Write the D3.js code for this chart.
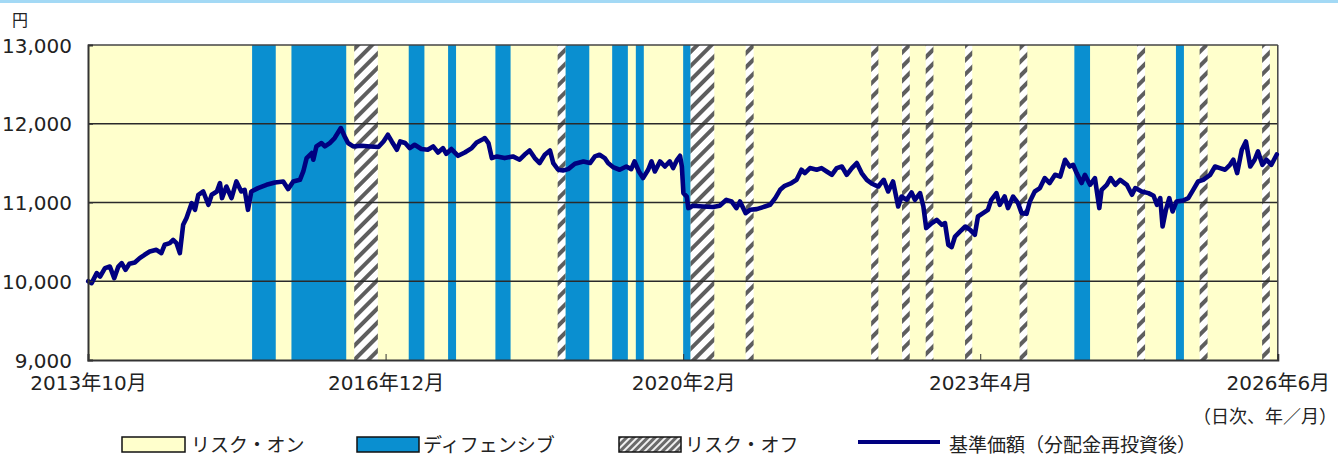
<!DOCTYPE html>
<html><head><meta charset="utf-8">
<script src="https://cdn.jsdelivr.net/npm/d3@7"></script>
<style>body{margin:0;background:#fff;} svg{display:block}</style>
</head><body><svg id="c" width="1338" height="457"></svg>
<script>
// ---------- data ----------
const navDates = [
"2013-10-02","2013-10-15","2013-11-04","2013-11-17","2013-12-06","2013-12-25","2014-01-11","2014-01-27","2014-02-09","2014-02-24",
"2014-03-11","2014-04-01","2014-04-20","2014-05-09","2014-05-29","2014-06-24","2014-07-13","2014-07-26","2014-08-15","2014-08-28",
"2014-09-10","2014-09-23","2014-10-06","2014-10-19","2014-11-08","2014-11-21","2014-12-04","2014-12-23","2015-01-12","2015-01-25",
"2015-02-14","2015-02-26","2015-03-06","2015-03-23","2015-04-12","2015-05-01","2015-05-20","2015-06-02","2015-06-15","2015-06-28",
"2015-07-24","2015-08-26","2015-09-28","2015-10-30","2015-11-18","2015-12-08","2016-01-03","2016-01-16","2016-01-29","2016-02-18",
"2016-02-24","2016-03-07","2016-03-27","2016-04-09","2016-04-28","2016-05-17","2016-06-10","2016-06-25","2016-07-08","2016-07-28",
"2016-08-30","2016-10-02","2016-11-03","2016-11-23","2016-12-10","2016-12-25","2017-01-14","2017-01-27","2017-02-15","2017-03-05",
"2017-03-24","2017-04-19","2017-05-14","2017-06-04","2017-06-23","2017-07-12","2017-07-25","2017-08-14","2017-09-09","2017-10-05",
"2017-11-01","2017-11-20","2017-12-16","2017-12-22","2018-01-05","2018-01-18","2018-02-07","2018-03-09","2018-04-10","2018-05-06",
"2018-05-25","2018-06-14","2018-07-04","2018-07-23","2018-08-12","2018-09-01","2018-09-14","2018-10-03","2018-10-22","2018-11-11",
"2018-12-07","2019-01-09","2019-02-04","2019-02-23","2019-03-13","2019-04-02","2019-04-15","2019-05-04","2019-05-30","2019-06-25",
"2019-07-14","2019-07-27","2019-08-13","2019-08-29","2019-09-18","2019-10-01","2019-10-14","2019-11-03","2019-11-22","2019-12-11",
"2019-12-24","2020-01-07","2020-01-20","2020-01-27","2020-02-02","2020-02-15","2020-02-21","2020-03-10","2020-04-18","2020-05-27",
"2020-06-22","2020-07-18","2020-08-07","2020-08-26","2020-09-09","2020-10-01","2020-10-18","2020-11-13","2020-12-15","2021-01-04",
"2021-01-24","2021-02-12","2021-03-02","2021-03-28","2021-04-17","2021-05-06","2021-05-19","2021-06-08","2021-07-04","2021-07-23",
"2021-08-12","2021-09-01","2021-09-20","2021-10-10","2021-10-29","2021-11-18","2021-12-07","2021-12-26","2022-01-15","2022-02-04",
"2022-03-01","2022-03-06","2022-03-22","2022-04-08","2022-04-27","2022-05-17","2022-05-30","2022-06-19","2022-07-08","2022-07-21",
"2022-08-10","2022-08-23","2022-09-03","2022-09-25","2022-10-14","2022-11-03","2022-11-15","2022-11-28","2022-12-11","2022-12-24",
"2023-01-13","2023-02-02","2023-02-21","2023-03-11","2023-03-23","2023-04-12","2023-05-01","2023-05-14","2023-06-03","2023-06-16",
"2023-07-05","2023-07-18","2023-08-07","2023-08-26","2023-09-09","2023-09-28","2023-10-11","2023-10-30","2023-11-19","2023-12-08",
"2023-12-27","2024-01-17","2024-02-06","2024-02-25","2024-03-14","2024-03-27","2024-04-10","2024-04-29","2024-05-12","2024-06-01",
"2024-06-20","2024-07-07","2024-07-16","2024-08-05","2024-08-20","2024-09-07","2024-09-26","2024-10-22","2024-11-11","2024-11-24",
"2024-12-19","2025-01-14","2025-02-03","2025-02-16","2025-03-01","2025-03-10","2025-03-23","2025-04-05","2025-04-18","2025-05-03",
"2025-05-29","2025-06-18","2025-07-07","2025-07-26","2025-08-15","2025-09-11","2025-09-30","2025-10-19","2025-11-08","2025-11-27",
"2025-12-10","2025-12-25","2026-01-12","2026-01-28","2026-02-14","2026-03-03","2026-03-16","2026-04-02","2026-04-18","2026-05-07",
"2026-05-28"
];
const navValues = [
10000,9976,10103,10060,10167,10187,10039,10187,10230,10145,
10221,10238,10294,10336,10377,10399,10357,10463,10484,10526,
10484,10357,10717,10802,10992,10907,11098,11140,10971,11098,
11140,11247,11056,11203,11056,11267,11140,11161,10907,11140,
11183,11225,11254,11267,11170,11267,11288,11394,11564,11628,
11543,11712,11755,11712,11755,11818,11945,11839,11755,11712,
11720,11712,11704,11775,11860,11775,11670,11775,11755,11691,
11733,11679,11670,11712,11635,11691,11619,11679,11593,11635,
11691,11762,11806,11818,11755,11564,11585,11564,11585,11543,
11606,11661,11564,11501,11606,11661,11501,11416,11407,11424,
11492,11521,11501,11585,11606,11564,11501,11450,11416,11457,
11424,11521,11394,11310,11416,11521,11394,11521,11457,11521,
11437,11534,11593,11457,11119,11076,10929,10958,10949,10942,
10958,11034,11013,10929,11013,10865,10907,10916,10949,10971,
11056,11161,11212,11247,11288,11416,11374,11437,11416,11437,
11394,11352,11437,11457,11352,11437,11501,11374,11288,11238,
11203,11225,11288,11140,11267,10949,11076,11034,11127,11034,
11119,10949,10675,10738,10780,10717,10738,10463,10433,10568,
10632,10695,10653,10590,10822,10865,10907,11034,11119,10971,
11076,10929,11076,10992,10865,10856,11013,11140,11183,11310,
11247,11352,11330,11543,11457,11479,11374,11247,11352,11225,
11310,10929,11161,11225,11310,11225,11288,11225,11098,11183,
11140,11119,11085,10971,11056,10695,10907,11056,10886,11013,
11025,11056,11161,11267,11288,11352,11457,11437,11416,11479,
11543,11374,11670,11775,11457,11543,11648,11479,11543,11479,
11610
];
// regime bands: "def" = ディフェンシブ, "off" = リスク・オフ (background = リスク・オン)
const bandStarts = ["2015-07-01","2015-12-01","2016-08-01","2017-03-01","2017-08-01","2018-02-01","2018-10-01","2018-11-01","2019-05-01","2019-08-01","2020-02-01","2020-03-01","2020-10-01","2022-02-01","2022-06-01","2022-09-01","2023-02-01","2023-09-01","2024-04-01","2024-12-01","2025-05-01","2025-08-01","2026-04-01"];
const bandEnds   = ["2015-10-01","2016-07-01","2016-11-01","2017-05-01","2017-09-01","2018-04-01","2018-11-01","2019-02-01","2019-07-01","2019-09-01","2020-03-01","2020-06-01","2020-11-01","2022-03-01","2022-07-01","2022-10-01","2023-03-01","2023-10-01","2024-06-01","2025-01-01","2025-06-01","2025-09-01","2026-05-01"];
const bandTypes  = ["def","def","off","def","def","def","off","def","def","def","def","off","off","off","off","off","off","off","def","off","def","off","off"];

const xDomain = ["2013-10-01","2026-06-01"];
const xTickDates = ["2013-10-01","2016-12-01","2020-02-01","2023-04-01","2026-06-01"];
const xTickLabels = ["2013年10月","2016年12月","2020年2月","2023年4月","2026年6月"];
const yTicks = [9000,10000,11000,12000,13000];
const yUnit = "円";
const xNote = "（日次、年／月）";
const legendLabels = ["リスク・オン","ディフェンシブ","リスク・オフ","基準価額（分配金再投資後）"];

// ---------- drawing ----------
const parse = d3.timeParse("%Y-%m-%d");
const svg = d3.select("#c");
const L = 88, R = 1277.8, T = 45, B = 360;
const numFont = "'DejaVu Sans','Noto Sans CJK JP',sans-serif";
const jpFont = "'Noto Sans CJK JP',sans-serif";

const x = d3.scaleTime().domain(xDomain.map(parse)).range([L, R]);
const y = d3.scaleLinear().domain([9000, 13000]).range([B, T]);

// top light-blue bar
svg.append("rect").attr("x",0).attr("y",0).attr("width",1338).attr("height",3).attr("fill","#a3d9f5");

const defs = svg.append("defs");
const hp = defs.append("pattern").attr("id","hatch").attr("patternUnits","userSpaceOnUse")
  .attr("width",10).attr("height",10).attr("patternTransform","rotate(45)");
hp.append("rect").attr("width",10).attr("height",10).attr("fill","#ffffff");
hp.append("line").attr("x1",5).attr("y1",0).attr("x2",5).attr("y2",10).attr("stroke","#5e5e5e").attr("stroke-width",4);
const hs = defs.append("pattern").attr("id","hatchSmall").attr("patternUnits","userSpaceOnUse")
  .attr("width",5).attr("height",5).attr("patternTransform","rotate(45)");
hs.append("rect").attr("width",5).attr("height",5).attr("fill","#ffffff");
hs.append("line").attr("x1",2.5).attr("y1",0).attr("x2",2.5).attr("y2",5).attr("stroke","#6a6a6a").attr("stroke-width",3.2);

// plot background (risk-on)
svg.append("rect").attr("x",L).attr("y",T).attr("width",R-L).attr("height",B-T).attr("fill","#ffffcc");

// bands
const bands = bandStarts.map((s,i)=>({s:parse(s), e:parse(bandEnds[i]), t:bandTypes[i]}));
svg.append("g").selectAll("rect").data(bands).join("rect")
  .attr("x",d=>x(d.s)).attr("y",T).attr("width",d=>x(d.e)-x(d.s)).attr("height",B-T)
  .attr("fill",d=>d.t==="def" ? "#0a8fd0" : "url(#hatch)");

// gridlines
svg.append("g").selectAll("line").data(yTicks.filter(v=>v>9000 && v<13000)).join("line")
  .attr("x1",L).attr("x2",R).attr("y1",d=>y(d)).attr("y2",d=>y(d))
  .attr("stroke","#2a2a2a").attr("stroke-width",1.4);

// frame
svg.append("line").attr("x1",L).attr("x2",R).attr("y1",T).attr("y2",T).attr("stroke","#444").attr("stroke-width",1.5);
svg.append("line").attr("x1",R).attr("x2",R).attr("y1",T).attr("y2",B).attr("stroke","#444").attr("stroke-width",1.5);

// line
const pts = navDates.map((d,i)=>({d:parse(d), v:navValues[i]}));
svg.append("path").datum(pts)
  .attr("fill","none").attr("stroke","#000080").attr("stroke-width",4.6)
  .attr("stroke-linejoin","round").attr("stroke-linecap","round")
  .attr("d", d3.line().x(p=>x(p.d)).y(p=>y(p.v)));

// y axis
const yAxis = d3.axisLeft(y).tickValues(yTicks).tickSize(-5).tickPadding(16)
  .tickFormat(d3.format(","));
const gy = svg.append("g").attr("transform",`translate(${L},0)`).call(yAxis);
gy.select(".domain").attr("stroke","#333").attr("stroke-width",2);
gy.selectAll(".tick line").attr("stroke","#333");
gy.selectAll("text").attr("font-family",numFont).attr("font-size",20).attr("fill","#222").attr("dy","0.36em");

// x axis
const xAxis = d3.axisBottom(x).tickValues(xTickDates.map(parse)).tickSize(-6).tickPadding(16)
  .tickFormat((d,i)=>xTickLabels[i]);
const gx = svg.append("g").attr("transform",`translate(0,${B})`).call(xAxis);
gx.select(".domain").attr("stroke","#333").attr("stroke-width",2);
gx.selectAll(".tick line").attr("stroke","#333");
gx.selectAll("text").attr("font-family",numFont).attr("font-size",20).attr("fill","#222");

// unit label and note
svg.append("text").attr("x",12).attr("y",26).text(yUnit)
  .attr("font-family",jpFont).attr("font-size",16).attr("fill","#222");
svg.append("text").attr("x",1337).attr("y",423).attr("text-anchor","end").text(xNote)
  .attr("font-family",jpFont).attr("font-size",18).attr("fill","#222");

// legend
const lg = svg.append("g");
const ly = 437, lh = 15, tb = 451.5;
lg.append("rect").attr("x",122).attr("y",ly).attr("width",63).attr("height",lh).attr("fill","#ffffcc").attr("stroke","#111").attr("stroke-width",1.5);
lg.append("rect").attr("x",357).attr("y",ly).attr("width",62).attr("height",lh).attr("fill","#0a8fd0").attr("stroke","#111").attr("stroke-width",1.5);
lg.append("rect").attr("x",619).attr("y",ly).attr("width",62).attr("height",lh).attr("fill","url(#hatchSmall)").attr("stroke","#111").attr("stroke-width",1.5);
lg.append("line").attr("x1",858).attr("x2",940).attr("y1",442).attr("y2",442).attr("stroke","#000080").attr("stroke-width",4);
const lx = [191, 423, 685, 949];
lg.selectAll("text").data(legendLabels).join("text")
  .attr("x",(d,i)=>lx[i]).attr("y",tb).text(d=>d)
  .attr("font-family",jpFont).attr("font-size",19).attr("fill","#222");
</script></body></html>
